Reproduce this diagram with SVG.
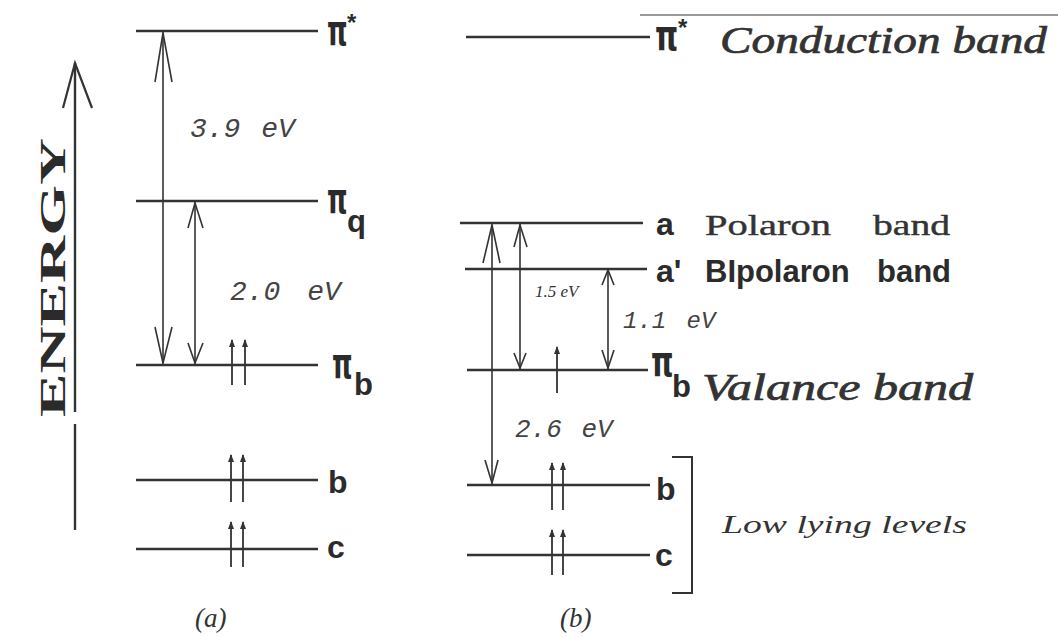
<svg xmlns="http://www.w3.org/2000/svg" width="1058" height="638" viewBox="0 0 1058 638">
<style>
.lvl{stroke:#333;stroke-width:2.6;fill:none}
.tr{stroke:#333;stroke-width:1.6;fill:none}
.hd{stroke:#333;stroke-width:1.6;fill:none;stroke-linejoin:miter}
.el{stroke:#333;stroke-width:1.8;fill:none}
.sans{font-family:"Liberation Sans",Arial,sans-serif;font-weight:bold;fill:#2b2b2b}
.lbl{font-size:32px}
.pi{font-family:"DejaVu Sans","Liberation Sans",sans-serif;font-weight:bold;font-size:42px;fill:#2b2b2b}
.ast{font-size:24px}
.sub{font-size:31px}
.ital{font-family:"Liberation Serif","Times New Roman",serif;font-style:italic;fill:#333}
.heavy{stroke:#333;stroke-width:0.7}
.mono{font-family:"Liberation Mono","Courier New",monospace;font-style:italic;fill:#444}
.rom{font-family:"Liberation Serif","Times New Roman",serif;fill:#333;stroke:#333;stroke-width:0.4}
</style>
<defs>
<marker id="eh" viewBox="0 0 8 6" refX="7" refY="3" markerWidth="8" markerHeight="6" markerUnits="userSpaceOnUse" orient="auto">
<path d="M0,0 L8,3 L0,6 Z" fill="#333"/>
</marker>
</defs>
<rect width="1058" height="638" fill="#fff"/>
<line x1="640" y1="15" x2="1058" y2="15" stroke="#777" stroke-width="1.5"/>

<g id="energy-axis">
<line x1="75" y1="63" x2="75" y2="412" stroke="#333" stroke-width="2.4"/>
<line x1="75" y1="424" x2="75" y2="530" stroke="#333" stroke-width="2.4"/>
<path d="M63,108 L75,63 L92,108" stroke="#333" stroke-width="2.2" fill="none"/>
<text transform="translate(65,417) rotate(-90)" textLength="279" lengthAdjust="spacingAndGlyphs" font-family="Liberation Serif,Times New Roman,serif" font-weight="bold" font-size="35" fill="#2b2b2b">ENERGY</text>
</g>

<g id="panel-a">
<g id="a-pistar">
<line class="lvl" x1="136" y1="31" x2="318" y2="31"/>
<text class="pi" transform="translate(327,45) scale(0.62,1)">π</text>
<text class="sans ast" x="347" y="31">*</text>
</g>
<g id="a-piq">
<line class="lvl" x1="136" y1="201" x2="318" y2="201"/>
<text class="pi" transform="translate(327,213) scale(0.62,1)">π</text>
<text class="sans sub" x="347" y="232">q</text>
</g>
<g id="a-pib">
<line class="lvl" x1="136" y1="365" x2="318" y2="365"/>
<text class="pi" transform="translate(332,378) scale(0.62,1)">π</text>
<text class="sans sub" x="354" y="395">b</text>
</g>
<g id="a-b">
<line class="lvl" x1="136" y1="480" x2="318" y2="480"/>
<text class="sans lbl" x="328" y="493">b</text>
</g>
<g id="a-c">
<line class="lvl" x1="136" y1="549" x2="318" y2="549"/>
<text class="sans lbl" x="327" y="558">c</text>
</g>
<text class="mono" x="190" y="137" font-size="28" word-spacing="4">3.9 eV</text>
<text class="mono" x="230" y="300" font-size="28" word-spacing="10">2.0 eV</text>
<text class="ital" x="195" y="627" font-size="27">(a)</text>
</g>

<g id="panel-b">
<g id="b-pistar">
<line class="lvl" x1="466" y1="37" x2="650" y2="37"/>
<text class="pi" transform="translate(655,50) scale(0.7,1)">π</text>
<text class="sans ast" x="678" y="36">*</text>
<text class="ital heavy" x="720" y="53" font-size="37" textLength="327" lengthAdjust="spacingAndGlyphs">Conduction band</text>
</g>
<g id="b-a">
<line class="lvl" x1="460" y1="223" x2="643" y2="223"/>
<text class="sans lbl" x="656" y="235">a</text>
<text class="rom" x="705" y="235" font-size="30" textLength="126" lengthAdjust="spacingAndGlyphs">Polaron</text>
<text class="rom" x="873" y="235" font-size="30" textLength="77" lengthAdjust="spacingAndGlyphs">band</text>
</g>
<g id="b-aprime">
<line class="lvl" x1="465" y1="269" x2="647" y2="269"/>
<text class="sans lbl" x="656" y="282">a'</text>
<text class="sans" x="705" y="282" font-size="31">BIpolaron<tspan x="877">band</tspan></text>
</g>
<g id="b-pib">
<line class="lvl" x1="467" y1="370" x2="648" y2="370"/>
<text class="pi" transform="translate(651,376) scale(0.68,1)">π</text>
<text class="sans sub" x="672" y="397">b</text>
<text class="ital heavy" x="702" y="400" font-size="37" textLength="271" lengthAdjust="spacingAndGlyphs">Valance band</text>
</g>
<g id="b-b">
<line class="lvl" x1="467" y1="485" x2="650" y2="485"/>
<text class="sans lbl" x="656" y="500">b</text>
</g>
<g id="b-c">
<line class="lvl" x1="467" y1="555" x2="650" y2="555"/>
<text class="sans lbl" x="655" y="566">c</text>
</g>
<g id="low-lying">
<path d="M672,457 H692 V593 H672" stroke="#333" stroke-width="2" fill="none"/>
<text class="ital" x="722" y="533" font-size="26" textLength="245" lengthAdjust="spacingAndGlyphs">Low lying levels</text>
</g>
<text class="ital" x="535" y="297" font-size="17">1.5 eV</text>
<text class="mono" x="623" y="328" font-size="24" word-spacing="6">1.1 eV</text>
<text class="mono" x="515" y="437" font-size="26" word-spacing="4">2.6 eV</text>
<text class="ital" x="560" y="627" font-size="27">(b)</text>
</g>

<g id="connectors">
<line class="tr" x1="163" y1="32" x2="163" y2="364"/>
<path class="hd" d="M155,82 L163,33 L172,82"/>
<path class="hd" d="M155,327 L163,363 L172,327"/>
<line class="tr" x1="195" y1="202" x2="195" y2="364"/>
<path class="hd" d="M188,228 L195,203 L203,228"/>
<path class="hd" d="M188,343 L195,363 L203,343"/>
<line class="el" x1="232" y1="385" x2="232" y2="340" marker-end="url(#eh)"/>
<line class="el" x1="245" y1="385" x2="245" y2="340" marker-end="url(#eh)"/>
<line class="el" x1="231" y1="502" x2="231" y2="455" marker-end="url(#eh)"/>
<line class="el" x1="243" y1="502" x2="243" y2="455" marker-end="url(#eh)"/>
<line class="el" x1="231" y1="567" x2="231" y2="522" marker-end="url(#eh)"/>
<line class="el" x1="243" y1="567" x2="243" y2="522" marker-end="url(#eh)"/>
<line class="tr" x1="492" y1="224" x2="492" y2="484"/>
<path class="hd" d="M483,263 L492,225 L500,263"/>
<path class="hd" d="M485,460 L492,483 L498,460"/>
<line class="tr" x1="520" y1="224" x2="520" y2="369"/>
<path class="hd" d="M514,247 L520,225 L527,247"/>
<path class="hd" d="M514,353 L520,368 L526,353"/>
<line class="tr" x1="608" y1="270" x2="608" y2="369"/>
<path class="hd" d="M602,285 L608,270 L614,285"/>
<path class="hd" d="M602,350 L608,368 L614,350"/>
<line class="el" x1="557" y1="393" x2="557" y2="347" marker-end="url(#eh)"/>
<line class="el" x1="552" y1="510" x2="552" y2="463" marker-end="url(#eh)"/>
<line class="el" x1="563" y1="510" x2="563" y2="463" marker-end="url(#eh)"/>
<line class="el" x1="552" y1="575" x2="552" y2="530" marker-end="url(#eh)"/>
<line class="el" x1="563" y1="575" x2="563" y2="530" marker-end="url(#eh)"/>
</g>
</svg>
